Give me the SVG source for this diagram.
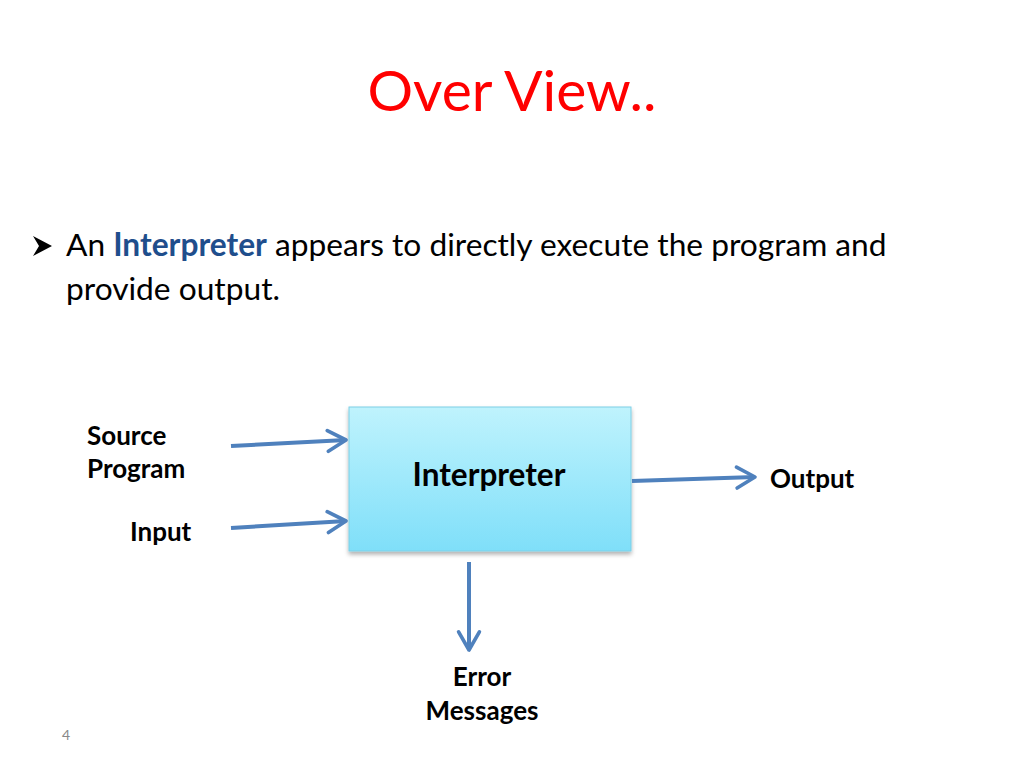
<svg xmlns="http://www.w3.org/2000/svg" width="1024" height="768" viewBox="0 0 1024 768">
<defs>
<linearGradient id="boxg" x1="0" y1="0" x2="0" y2="1">
<stop offset="0" stop-color="#bff3fd"/>
<stop offset="1" stop-color="#7fdff9"/>
</linearGradient>
<filter id="sh" x="-10%" y="-10%" width="120%" height="130%">
<feDropShadow dx="0" dy="3" stdDeviation="2" flood-color="#000" flood-opacity="0.3"/>
</filter>
<marker id="ah" viewBox="0 0 10 10" refX="8" refY="5" markerWidth="6.5" markerHeight="6.5" orient="auto" markerUnits="strokeWidth">
<path d="M1,1 L8,5 L1,9" fill="none" stroke="#4f81bd" stroke-width="1.4" stroke-linecap="round" stroke-linejoin="round"/>
</marker>
</defs>
<style>
text{font-family:Lato,"Open Sans","Liberation Sans",sans-serif}
.lbl{font-size:26px;font-weight:bold;fill:#000}
.body{font-size:31.7px;fill:#000}
.conn{stroke:#4f81bd;stroke-width:4;fill:none;marker-end:url(#ah)}
</style>
<rect width="1024" height="768" fill="#fff"/>
<text x="512" y="111" text-anchor="middle" style="font-size:57px;fill:#f00">Over View..</text>
<path d="M33,236 L52,246 L33,256 L39,246 Z" fill="#000"/>
<text class="body" x="66" y="256">An <tspan style="font-weight:bold;fill:#1f4e8c">Interpreter</tspan> appears to directly execute the program and</text>
<text class="body" x="66" y="300">provide output.</text>
<g id="interpreter">
<rect x="349" y="407" width="282" height="144" fill="url(#boxg)" stroke="#7fcfe6" stroke-width="1" filter="url(#sh)"/>
<text class="lbl" x="489" y="486" text-anchor="middle" style="font-size:31.5px">Interpreter</text>
</g>
<g id="source">
<text class="lbl" x="87" y="445">Source</text>
<text class="lbl" x="87" y="478">Program</text>
</g>
<g id="input"><text class="lbl" x="130" y="541">Input</text></g>
<g id="output"><text class="lbl" x="770" y="488">Output</text></g>
<g id="errors">
<text class="lbl" x="482" y="686" text-anchor="middle">Error</text>
<text class="lbl" x="482" y="720" text-anchor="middle">Messages</text>
</g>
<g id="connectors">
<path class="conn" d="M231,446 L346,440"/>
<path class="conn" d="M231,528 L346,521"/>
<path class="conn" d="M632,481 L755,477"/>
<path class="conn" d="M469,562 L469,650"/>
</g>
<text x="62" y="740" style="font-size:14px;fill:#888">4</text>
</svg>
